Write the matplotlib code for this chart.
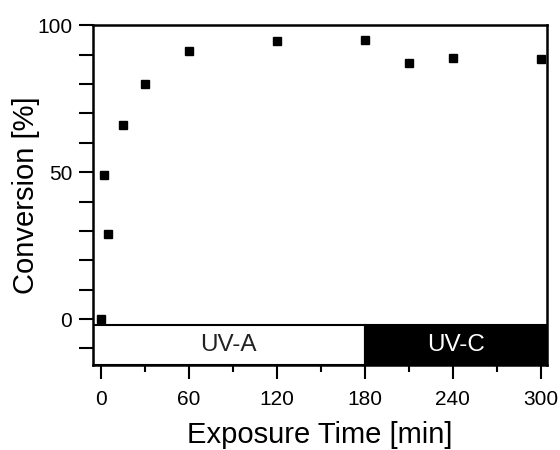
import numpy as np
import matplotlib
matplotlib.use("Agg")
import matplotlib.pyplot as plt
from matplotlib.ticker import MultipleLocator, FuncFormatter

plt.rcParams['font.family'] = ['Liberation Sans', 'DejaVu Sans']

# data
time_min = [0, 2, 5, 15, 30, 60, 120, 180, 210, 240, 300]
conversion = [0, 49.2, 28.8, 66, 80, 91.2, 94.7, 95, 87, 89, 88.4]

phases = ['UV-A', 'UV-C']
phase_start = [-5.2, 180]
phase_end = [180, 304.3]
phase_face = ['white', 'black']
phase_text = ['#222222', 'white']

xlim = (-5.2, 304.3)
ylim = (-15.6, 100)
band_top = -2.0

fig = plt.figure(figsize=(5.6, 4.5), dpi=100)
ax = fig.add_axes([0.166, 0.189, 0.811, 0.755])

for name, x0, x1, fc, tc in zip(phases, phase_start, phase_end, phase_face, phase_text):
    ax.bar(x0, band_top - ylim[0], width=x1 - x0, bottom=ylim[0], align='edge',
           color=fc, edgecolor='black', linewidth=1.5, zorder=2)
    ax.text((x0 + x1) / 2, (band_top + ylim[0]) / 2, name, color=tc,
            ha='center', va='center', fontsize=17.5, zorder=3)

ax.plot(time_min, conversion, 's', color='black', markersize=5.5, zorder=4,
        clip_on=False)

ax.set_xlim(*xlim)
ax.set_ylim(*ylim)

ax.xaxis.set_major_locator(MultipleLocator(60))
ax.xaxis.set_minor_locator(MultipleLocator(30))
ax.yaxis.set_major_locator(MultipleLocator(10))
ax.yaxis.set_major_formatter(FuncFormatter(lambda v, p: f"{v:.0f}" if abs(v % 50) < 1e-6 else ""))

ax.tick_params(axis='both', direction='out', width=1.5, labelsize=15, color='black')
ax.tick_params(axis='x', which='major', length=10, pad=8)
ax.tick_params(axis='x', which='minor', length=5, width=1.5)
ax.tick_params(axis='y', which='major', length=10, pad=5)

for s in ax.spines.values():
    s.set_linewidth(1.8)
    s.set_zorder(5)

ax.set_xlabel('Exposure Time [min]', fontsize=21, labelpad=9)
ax.set_ylabel('Conversion [%]', fontsize=21, labelpad=-2)

fig.savefig('out.png', dpi=100)
